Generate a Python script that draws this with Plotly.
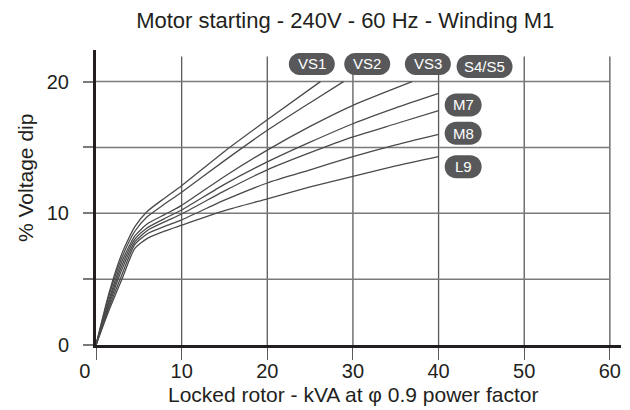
import plotly.graph_objects as go

# ---- data ----
names = ["VS1", "VS2", "VS3", "S4/S5", "M7", "M8", "L9"]
x_vs1 = [0, 1.5, 3, 4.5, 6, 8, 10, 15, 20, 26.2]
y_vs1 = [0, 3.9, 6.9, 8.95, 10.15, 11.15, 12.1, 14.7, 17.1, 20.0]
x_vs2 = [0, 1.5, 3, 4.5, 6, 8, 10, 15, 20, 25, 28.9]
y_vs2 = [0, 3.7, 6.6, 8.6, 9.75, 10.7, 11.6, 14.0, 16.3, 18.4, 20.0]
x_vs3 = [0, 1.5, 3, 4.5, 6, 8, 10, 15, 20, 25, 30, 36.9]
y_vs3 = [0, 3.4, 6.3, 8.25, 9.2, 9.9, 10.6, 12.8, 14.8, 16.6, 18.2, 20.0]
x_s45 = [0, 1.5, 3, 4.5, 6, 8, 10, 15, 20, 25, 30, 35, 40]
y_s45 = [0, 3.2, 6.0, 8.0, 8.9, 9.6, 10.25, 12.2, 13.9, 15.4, 16.8, 18.0, 19.1]
x_m7 = [0, 1.5, 3, 4.5, 6, 8, 10, 15, 20, 25, 30, 35, 40]
y_m7 = [0, 3.0, 5.7, 7.8, 8.7, 9.35, 9.95, 11.7, 13.3, 14.6, 15.8, 16.8, 17.8]
x_m8 = [0, 1.5, 3, 4.5, 6, 8, 10, 15, 20, 25, 30, 35, 40]
y_m8 = [0, 2.8, 5.3, 7.6, 8.45, 9.0, 9.5, 11.0, 12.3, 13.3, 14.3, 15.2, 16.0]
x_l9 = [0, 1.5, 3, 4.5, 6, 8, 10, 15, 20, 25, 30, 35, 40]
y_l9 = [0, 2.6, 4.95, 7.3, 8.1, 8.65, 9.1, 10.2, 11.1, 12.0, 12.8, 13.6, 14.3]

xs = [x_vs1, x_vs2, x_vs3, x_s45, x_m7, x_m8, x_l9]
ys = [y_vs1, y_vs2, y_vs3, y_s45, y_m7, y_m8, y_l9]

x_ticks = [0, 10, 20, 30, 40, 50, 60]
x_ticktext = ["0\u00a0\u00a0\u00a0\u00a0", "10", "20", "30", "40", "50", "60"]
y_ticks = [0, 5, 10, 15, 20]
y_ticktext = ["0", "", "10", "", "20"]

# label (pill) placement – layout only
label_x = [25.2, 31.67, 38.75, 45.37, 42.87, 42.87, 42.87]
label_y = [21.34, 21.34, 21.34, 21.14, 18.23, 16.08, 13.54]
label_w = [46, 46, 46, 56, 37, 37, 37]
label_h = [22, 22, 22, 23, 23, 23, 23]

FONT = "Liberation Sans, Arial, sans-serif"
INK = "#231f20"
CURVE = "#4a4a4a"
PILL = "#58585a"

fig = go.Figure()
for n, x, y in zip(names, xs, ys):
    fig.add_trace(go.Scatter(x=x, y=y, mode="lines", name=n,
                             line=dict(color=CURVE, width=1.3, shape="spline", smoothing=0.6),
                             hoverinfo="x+y+name", showlegend=False))

shapes = []
# gridlines
for xv in x_ticks[1:]:
    shapes.append(dict(type="line", xref="x", yref="y", x0=xv, x1=xv, y0=0, y1=21.9,
                       line=dict(color="#5a5a5a", width=1.3), layer="below"))
for yv in y_ticks[1:]:
    shapes.append(dict(type="line", xref="x", yref="y", x0=0, x1=x_ticks[-1], y0=yv, y1=yv,
                       line=dict(color="#7a7a7a", width=1.5), layer="below"))


def pill(w, h):
    r = h / 2.0
    k = 0.5523 * r
    a = w / 2.0 - r
    return (f"M {-a},{-r} L {a},{-r} "
            f"C {a + k},{-r} {a + r},{-k} {a + r},0 "
            f"C {a + r},{k} {a + k},{r} {a},{r} "
            f"L {-a},{r} "
            f"C {-a - k},{r} {-a - r},{k} {-a - r},0 "
            f"C {-a - r},{-k} {-a - k},{-r} {-a},{-r} Z")


annotations = []
for n, lx, ly, w, h in zip(names, label_x, label_y, label_w, label_h):
    shapes.append(dict(type="path", xref="x", yref="y", xsizemode="pixel", ysizemode="pixel",
                       xanchor=lx, yanchor=ly, path=pill(w, h),
                       fillcolor=PILL, line=dict(width=0), layer="above"))
    annotations.append(dict(x=lx, y=ly, xref="x", yref="y", text=n, showarrow=False,
                            font=dict(family=FONT, size=15, color="white"),
                            xanchor="center", yanchor="middle"))

annotations.append(dict(text="% Voltage dip", xref="paper", yref="paper", x=0, y=0.566,
                        xshift=-71, textangle=-90, showarrow=False,
                        xanchor="center", yanchor="middle",
                        font=dict(family=FONT, size=21, color=INK)))
annotations.append(dict(text="Locked rotor - kVA at φ 0.9 power factor", xref="paper", yref="paper",
                        x=0.490, y=0, yshift=-49, showarrow=False,
                        xanchor="center", yanchor="middle",
                        font=dict(family=FONT, size=21, color=INK)))

fig.update_layout(
    width=630, height=410,
    margin=dict(l=96, r=9, t=50, b=65),
    paper_bgcolor="white", plot_bgcolor="white",
    title=dict(text="Motor starting - 240V - 60 Hz - Winding M1", x=0.548, xref="container",
               xanchor="center", y=0.951, yref="container", yanchor="middle",
               font=dict(family=FONT, size=22, color=INK)),
    xaxis=dict(range=[0, 61.3], tickvals=x_ticks, ticktext=x_ticktext, showgrid=False,
               zeroline=False, showline=True, linecolor=INK, linewidth=3,
               ticks="outside", ticklen=12, tickwidth=1.3, tickcolor="#5a5a5a",
               ticklabelstandoff=-6,
               tickfont=dict(family=FONT, size=20, color=INK), fixedrange=True),
    yaxis=dict(range=[0, 22.4], tickvals=y_ticks, ticktext=y_ticktext, showgrid=False,
               zeroline=False, showline=True, linecolor=INK, linewidth=3,
               ticks="outside", ticklen=10, tickwidth=1.5, tickcolor="#7a7a7a",
               ticklabelstandoff=10,
               tickfont=dict(family=FONT, size=20, color=INK), fixedrange=True),
    shapes=shapes, annotations=annotations,
)

fig.write_html("out.html", config={"displayModeBar": False},
               post_script="document.body.style.margin='0px';")
